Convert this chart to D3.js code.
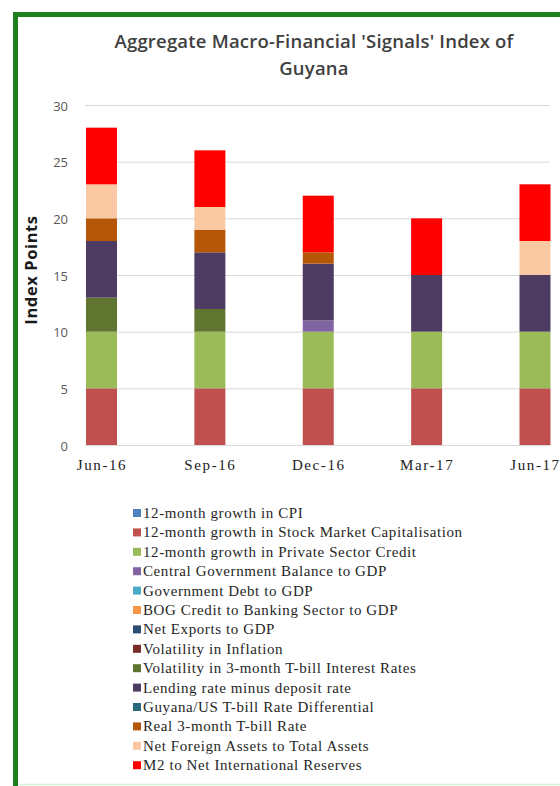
<!DOCTYPE html>
<html>
<head>
<meta charset="utf-8">
<script src="https://cdn.jsdelivr.net/npm/d3@7/dist/d3.min.js"></script>
<style>
  html, body { margin: 0; padding: 0; background: #ffffff; }
  svg { display: block; }
</style>
</head>
<body>
<svg id="chart" width="560" height="786"></svg>
<script>
// Quarter-end categories on the x axis
const categories = ["Jun-16", "Sep-16", "Dec-16", "Mar-17", "Jun-17"];

// Y axis tick values (index points)
const yTicks = [0, 5, 10, 15, 20, 25, 30];

// Signal components, in stacking / legend order
const seriesNames = [
  "12-month growth in CPI",
  "12-month growth in Stock Market Capitalisation",
  "12-month growth in Private Sector Credit",
  "Central Government Balance to GDP",
  "Government Debt to GDP",
  "BOG Credit to Banking Sector to GDP",
  "Net Exports to GDP",
  "Volatility in Inflation",
  "Volatility in 3-month T-bill Interest Rates",
  "Lending rate minus deposit rate",
  "Guyana/US T-bill Rate Differential",
  "Real 3-month T-bill Rate",
  "Net Foreign Assets to Total Assets",
  "M2 to Net International Reserves"
];

// Points contributed by each component per quarter
const cpiGrowth         = [0, 0, 0, 0, 0];
const stockMarketGrowth = [5, 5, 5, 5, 5];
const privateCredit     = [5, 5, 5, 5, 5];
const govBalance        = [0, 0, 1, 0, 0];
const govDebt           = [0, 0, 0, 0, 0];
const bogCredit         = [0, 0, 0, 0, 0];
const netExports        = [0, 0, 0, 0, 0];
const inflationVol      = [0, 0, 0, 0, 0];
const tbillVol          = [3, 2, 0, 0, 0];
const lendingSpread     = [5, 5, 5, 5, 5];
const rateDifferential  = [0, 0, 0, 0, 0];
const realTbill         = [2, 2, 1, 0, 0];
const nfaToAssets       = [3, 2, 0, 0, 3];
const m2ToReserves      = [5, 5, 5, 5, 5];

const seriesValues = [
  cpiGrowth, stockMarketGrowth, privateCredit, govBalance, govDebt,
  bogCredit, netExports, inflationVol, tbillVol, lendingSpread,
  rateDifferential, realTbill, nfaToAssets, m2ToReserves
];

const seriesColors = [
  "#4F81BD", "#C0504D", "#9BBB59", "#8064A2", "#4BACC6",
  "#F79646", "#2C4D75", "#772C2A", "#5F7530", "#4D3B62",
  "#276A7C", "#B65708", "#FAC8A2", "#FF0000"
];

const svg = d3.select("#chart");

// Green frame around the figure
svg.append("path")
  .attr("d", "M15.5,790 L15.5,14.5 L565,14.5")
  .attr("fill", "none")
  .attr("stroke", "#1f7f1f")
  .attr("stroke-width", 5);
svg.append("line")
  .attr("x1", 18).attr("x2", 560)
  .attr("y1", 784.5).attr("y2", 784.5)
  .attr("stroke", "#d6f3d6").attr("stroke-width", 1.5);

// Title
const title = svg.append("text")
  .attr("text-anchor", "middle")
  .attr("font-family", "Open Sans, sans-serif")
  .attr("font-size", 18.5)
  .attr("font-weight", 600)
  .attr("letter-spacing", "0.2px")
  .attr("fill", "#404040");
title.append("tspan").attr("x", 314).attr("y", 48).text("Aggregate Macro-Financial 'Signals' Index of");
title.append("tspan").attr("x", 314).attr("y", 75).text("Guyana");

// Scales
const y = d3.scaleLinear().domain([0, 30]).range([445, 105]);
const x = d3.scalePoint().domain(categories).range([101.5, 535]);
const barWidth = 31;
const plotLeft = 85, plotRight = 550;

// Gridlines
svg.append("g")
  .selectAll("line")
  .data(yTicks)
  .join("line")
  .attr("x1", plotLeft).attr("x2", plotRight)
  .attr("y1", d => y(d) + 0.5).attr("y2", d => y(d) + 0.5)
  .attr("stroke", "#d9d9d9")
  .attr("stroke-width", 1);

// Y axis labels
const yAxis = svg.append("g")
  .attr("transform", `translate(${plotLeft - 17},0)`)
  .call(d3.axisLeft(y).tickValues(yTicks).tickSize(0).tickPadding(0).tickFormat(d3.format("d")));
yAxis.select(".domain").remove();
yAxis.selectAll("text")
  .attr("font-family", "Open Sans, sans-serif")
  .attr("font-size", 13)
  .attr("fill", "#595959")
  .attr("dy", "0.4em");

// Y axis title
svg.append("text")
  .attr("transform", "translate(37,270) rotate(-90)")
  .attr("text-anchor", "middle")
  .attr("font-family", "Open Sans, sans-serif")
  .attr("font-size", 16.5)
  .attr("font-weight", "bold")
  .attr("letter-spacing", "0.6px")
  .attr("fill", "#1a1a1a")
  .text("Index Points");

// Stacked bars
const table = categories.map((c, i) => {
  const row = { category: c };
  seriesNames.forEach((s, k) => { row[s] = seriesValues[k][i]; });
  return row;
});
const stacked = d3.stack().keys(seriesNames)(table);

svg.append("g")
  .selectAll("g")
  .data(stacked)
  .join("g")
  .attr("fill", (d, i) => seriesColors[i])
  .selectAll("rect")
  .data(d => d.filter(p => p[1] - p[0] > 0))
  .join("rect")
  .attr("x", d => x(d.data.category) - barWidth / 2)
  .attr("width", barWidth)
  .attr("y", d => y(d[1]))
  .attr("height", d => y(d[0]) - y(d[1]));

// X axis
const xAxis = svg.append("g")
  .attr("transform", `translate(0,${y(0)})`)
  .call(d3.axisBottom(x).tickSize(0).tickPadding(0));
xAxis.select(".domain")
  .attr("d", `M${plotLeft},0.5H${plotRight}`)
  .attr("stroke", "#d9d9d9");
xAxis.selectAll("text")
  .attr("font-family", "Liberation Serif, serif")
  .attr("font-size", 15)
  .attr("letter-spacing", "1.6px")
  .attr("fill", "#222")
  .attr("dy", "1.65em");

// Legend
const legendX = 133, legendY0 = 513, legendStep = 19.4;
const legend = svg.append("g")
  .selectAll("g")
  .data(seriesNames)
  .join("g")
  .attr("transform", (d, i) => `translate(${legendX},${legendY0 + i * legendStep})`);
legend.append("rect")
  .attr("x", 0).attr("y", -4)
  .attr("width", 8).attr("height", 8)
  .attr("fill", (d, i) => seriesColors[i]);
legend.append("text")
  .attr("x", 10).attr("y", 5)
  .attr("font-family", "Liberation Serif, serif")
  .attr("font-size", 15)
  .attr("letter-spacing", "0.6px")
  .attr("fill", "#262626")
  .text(d => d);
</script>
</body>
</html>
